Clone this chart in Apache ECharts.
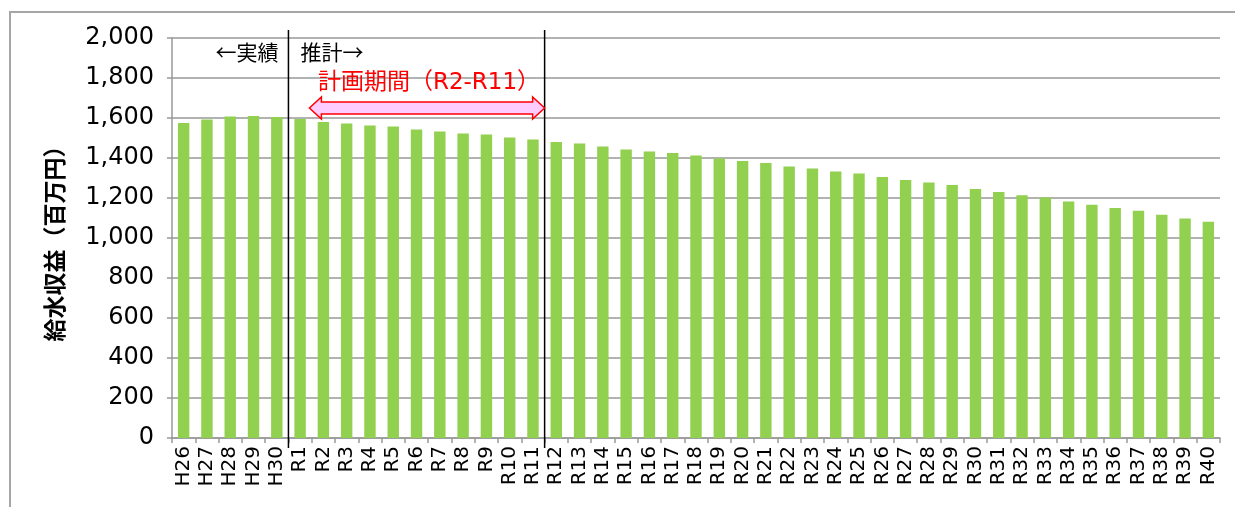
<!DOCTYPE html>
<html>
<head>
<meta charset="utf-8">
<script src="https://cdn.jsdelivr.net/npm/echarts@6/dist/echarts.min.js"></script>
<style>
  html, body { margin: 0; padding: 0; background: #fff; }
  #chart { width: 1235px; height: 507px; }
</style>
</head>
<body>
<div id="chart"></div>
<script>
// 年度（H26〜H30 実績、R1〜R40 推計）
const years = [
  "H26", "H27", "H28", "H29", "H30",
  "R1", "R2", "R3", "R4", "R5", "R6", "R7", "R8", "R9", "R10",
  "R11", "R12", "R13", "R14", "R15", "R16", "R17", "R18", "R19", "R20",
  "R21", "R22", "R23", "R24", "R25", "R26", "R27", "R28", "R29", "R30",
  "R31", "R32", "R33", "R34", "R35", "R36", "R37", "R38", "R39", "R40"
];

// 給水収益（百万円）
const revenue = [
  1575, 1592, 1607, 1610, 1605,
  1595, 1580, 1573, 1562, 1557, 1543, 1533, 1522, 1517, 1503,
  1493, 1480, 1473, 1458, 1443, 1433, 1425, 1412, 1398, 1385,
  1375, 1358, 1347, 1333, 1323, 1305, 1290, 1277, 1265, 1245,
  1230, 1214, 1202, 1182, 1166, 1150, 1136, 1116, 1098, 1081
];

const yTicks = [0, 200, 400, 600, 800, 1000, 1200, 1400, 1600, 1800, 2000];

const LAT = "'DejaVu Sans', 'Noto Sans CJK JP', sans-serif";
const JP = "'Noto Sans CJK JP', sans-serif";

const chart = echarts.init(document.getElementById("chart"));

chart.setOption({
  backgroundColor: "#fff",
  animation: false,
  grid: { left: 172, right: 15, top: 38, bottom: 69 },
  xAxis: {
    type: "category",
    data: years,
    axisLine: { lineStyle: { color: "#999", width: 1.5 } },
    axisTick: { show: true, length: 5, lineStyle: { color: "#999", width: 1.5 } },
    axisLabel: {
      rotate: 90,
      margin: 8,
      color: "#000",
      fontFamily: LAT,
      fontSize: 20,
      interval: 0
    }
  },
  yAxis: {
    type: "value",
    min: yTicks[0],
    max: yTicks[yTicks.length - 1],
    interval: 200,
    name: "給水収益（百万円）",
    nameLocation: "middle",
    nameGap: 106,
    nameTextStyle: { fontFamily: JP, fontSize: 23, fontWeight: "bold", color: "#000" },
    axisLine: { show: true, lineStyle: { color: "#999", width: 1.5 } },
    axisTick: { show: true, length: 5, lineStyle: { color: "#999", width: 1.5 } },
    axisLabel: {
      margin: 18,
      color: "#000",
      fontFamily: LAT,
      fontSize: 24,
      formatter: (v) => v.toLocaleString("en-US")
    },
    splitLine: { lineStyle: { color: "#999", width: 1.5 } }
  },
  series: [
    {
      type: "bar",
      data: revenue,
      barWidth: "49%",
      itemStyle: { color: "#92D050" }
    }
  ]
});

// 注記（区切り線、矢印、テキスト）
function drawNotes() {
  const px = (i) => chart.convertToPixel({ xAxisIndex: 0 }, i);
  const step = px(1) - px(0);
  const split1 = (px(4) + px(5)) / 2;
  const split2 = (px(15) + px(16)) / 2;
  const top = 30, bottom = 448;

  const arrowY = chart.convertToPixel({ yAxisIndex: 0 }, 1650);
  const ax1 = px(5) + 0.4 * step;
  const ax2 = split2;
  const head = 12, half = 11, shaft = 6;
  const arrowPts = [
    [ax1, arrowY],
    [ax1 + head, arrowY - half],
    [ax1 + head, arrowY - shaft],
    [ax2 - head, arrowY - shaft],
    [ax2 - head, arrowY - half],
    [ax2, arrowY],
    [ax2 - head, arrowY + half],
    [ax2 - head, arrowY + shaft],
    [ax1 + head, arrowY + shaft],
    [ax1 + head, arrowY + half]
  ];

  chart.setOption({
    graphic: [
      {
        type: "rect",
        shape: { x: 10, y: 12, width: 1300, height: 600 },
        style: { fill: null, stroke: "#a6a6a6", lineWidth: 2 },
        silent: true
      },
      {
        type: "line",
        shape: { x1: split1, y1: top, x2: split1, y2: bottom },
        style: { stroke: "#000", lineWidth: 1.5 },
        z: 10
      },
      {
        type: "line",
        shape: { x1: split2, y1: top, x2: split2, y2: bottom },
        style: { stroke: "#000", lineWidth: 1.5 },
        z: 10
      },
      {
        type: "text",
        x: split1 - 10,
        y: 52,
        style: {
          text: "←実績",
          fill: "#000",
          font: "21px " + JP,
          textAlign: "right",
          textVerticalAlign: "middle"
        },
        z: 10
      },
      {
        type: "text",
        x: split1 + 12,
        y: 52,
        style: {
          text: "推計→",
          fill: "#000",
          font: "21px " + JP,
          textAlign: "left",
          textVerticalAlign: "middle"
        },
        z: 10
      },
      {
        type: "text",
        x: (ax1 + ax2) / 2 + 2,
        y: 83,
        style: {
          text: "計画期間（R2-R11）",
          fill: "#ff0000",
          font: "23px " + LAT,
          textAlign: "center",
          textVerticalAlign: "middle"
        },
        z: 10
      },
      {
        type: "polygon",
        shape: { points: arrowPts },
        style: { fill: "#ffccff", stroke: "#ff0000", lineWidth: 1.5 },
        z: 11
      }
    ]
  });
}

drawNotes();
</script>
</body>
</html>
